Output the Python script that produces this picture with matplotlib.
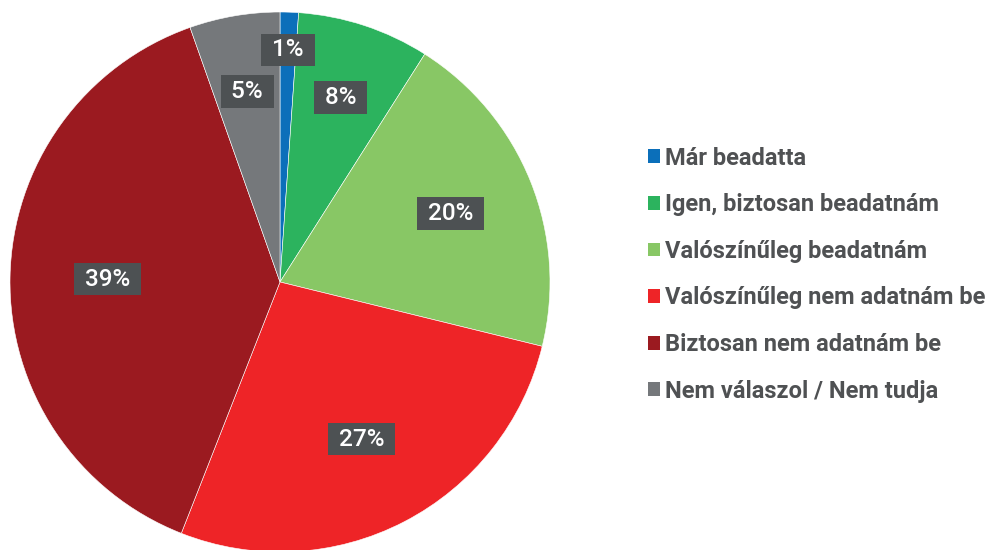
import numpy as np
import matplotlib.pyplot as plt
from matplotlib.patches import Patch

# adatok
categories = ["Már beadatta", "Igen, biztosan beadatnám", "Valószínűleg beadatnám",
              "Valószínűleg nem adatnám be", "Biztosan nem adatnám be",
              "Nem válaszol / Nem tudja"]
shares = [1.1, 7.9, 19.8, 27.1, 38.6, 5.4]
labels = ["1%", "8%", "20%", "27%", "39%", "5%"]
colors = ["#0B6FBA", "#2CB35E", "#88C765", "#EE2427", "#9B1A20", "#75787B"]
label_r = [0.86, 0.72, 0.68, 0.655, 0.64, 0.717]

plt.rcParams['font.family'] = ['Roboto', 'DejaVu Sans']

fig = plt.figure(figsize=(9.98, 5.5), dpi=100)
ax = fig.add_axes([0, 0, 1, 1])

cx, cy, R = 280, 268, 270
wedges, _ = ax.pie(shares, colors=colors, startangle=90, counterclock=False,
                   center=(cx, cy), radius=R, frame=True, normalize=True,
                   wedgeprops=dict(edgecolor='white', linewidth=0.4))
ax.set_xlim(0, 998)
ax.set_ylim(0, 550)
ax.set_aspect('equal')
ax.axis('off')

# címkék sötétszürke dobozban
for w, lab, r in zip(wedges, labels, label_r):
    ang = np.deg2rad((w.theta1 + w.theta2) / 2)
    x = cx + r * R * np.cos(ang)
    y = cy + r * R * np.sin(ang)
    ax.text(x, y, f" {lab} ", ha='center', va='center', color='white',
            fontsize=17.5, fontweight='medium',
            bbox=dict(boxstyle='square,pad=0.2', fc='#4D5153', ec='none'))

handles = [Patch(facecolor=c, edgecolor='none') for c in colors]
leg = ax.legend(handles, categories, loc='upper left', bbox_to_anchor=(0.628, 0.772),
                frameon=False, handlelength=0.52, handleheight=0.52,
                handletextpad=0.2, labelspacing=1.0,
                prop=dict(family=['Roboto', 'DejaVu Sans'], size=17, weight='bold'))
for t in leg.get_texts():
    t.set_color('#4F5153')

fig.savefig('out.png', dpi=100)
